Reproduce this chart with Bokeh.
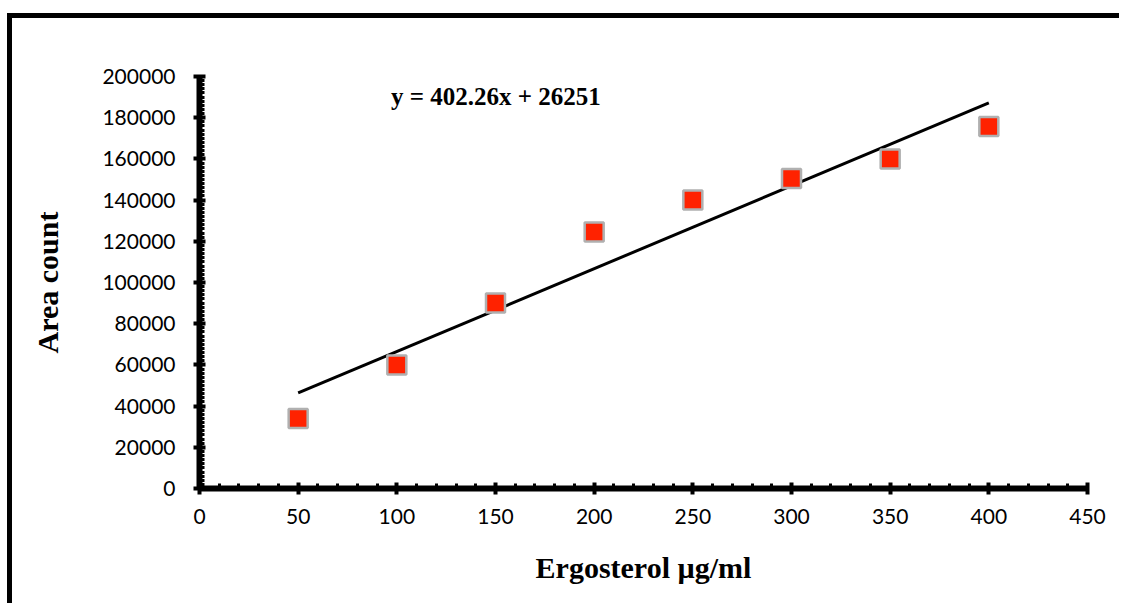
from bokeh.plotting import figure
from bokeh.models import Label, SingleIntervalTicker, Range1d
from bokeh.embed import file_html
from bokeh.resources import INLINE
import numpy as np

# data
conc = [50, 100, 150, 200, 250, 300, 350, 400]
area = [34000, 60000, 90000, 124500, 140000, 150500, 160000, 175700]
slope = 402.26
intercept = 26251
x_ticks = [0, 50, 100, 150, 200, 250, 300, 350, 400, 450]
y_ticks = [0, 20000, 40000, 60000, 80000, 100000, 120000, 140000, 160000, 180000, 200000]

p = figure(width=1112, height=590, output_backend="svg", toolbar_location=None,
           x_range=Range1d(0, 450), y_range=Range1d(0, 200000),
           min_border_left=187, min_border_right=37, min_border_top=58, min_border_bottom=120)
p.styles = {"border-left": "5px solid black", "border-top": "5px solid black",
            "margin-left": "7px", "margin-top": "13px"}
p.grid.visible = False
p.outline_line_color = None

fx = np.array([min(conc), max(conc)])
p.line(fx, slope * fx + intercept, line_color="black", line_width=3)
p.scatter(conc, area, marker="square", size=19, fill_color="#ff2200",
          line_color="#b0b0b0", line_width=2.5)

for ax in (p.xaxis[0], p.yaxis[0]):
    ax.axis_line_width = 6
    ax.major_tick_line_width = 4
    ax.minor_tick_line_width = 3
    ax.major_tick_in = 6
    ax.major_tick_out = 6
    ax.minor_tick_in = 5
    ax.minor_tick_out = 0
    ax.major_label_text_font = "Lato"
    ax.major_label_text_font_size = "21px"
    ax.major_label_text_color = "black"
    ax.axis_label_text_font = "Liberation Serif"
    ax.axis_label_text_font_style = "bold"
    ax.axis_label_text_font_size = "30px"
    ax.axis_label_text_color = "black"

p.xaxis[0].ticker = SingleIntervalTicker(interval=50, num_minor_ticks=5)
p.yaxis[0].ticker = SingleIntervalTicker(interval=20000, num_minor_ticks=10)
p.yaxis[0].formatter.use_scientific = False
p.xaxis[0].axis_label = "Ergosterol µg/ml"
p.yaxis[0].axis_label = "Area count"
p.yaxis[0].major_label_standoff = 18
p.xaxis[0].major_label_standoff = 14
p.yaxis[0].axis_label_standoff = 35
p.xaxis[0].axis_label_standoff = 24

eq = Label(x=97, y=190500, text=f"y = {slope}x + {intercept}",
           text_font="Liberation Serif", text_font_style="bold", text_font_size="25px",
           text_baseline="middle", text_align="left", text_color="black")
p.add_layout(eq)

open("out.html", "w").write(file_html(p, INLINE))
